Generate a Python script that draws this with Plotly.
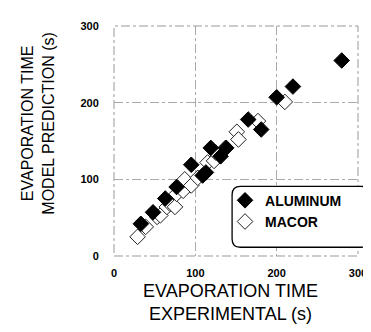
import plotly.graph_objects as go

alu_x = [33, 48, 63, 77, 95, 109, 113, 119, 131, 138, 165, 181, 200, 220, 280]
alu_y = [42, 57, 75, 90, 119, 105, 109, 141, 130, 141, 178, 165, 207, 221, 255]

mac_x = [29, 39, 53, 57, 65, 69, 75, 77, 85, 87, 95, 103, 115, 123, 125, 137, 151, 153, 177, 210]
mac_y = [25, 38, 51, 53, 64, 68, 64, 81, 85, 100, 92, 102, 122, 124, 135, 141, 162, 152, 176, 201]

ticks = [0, 100, 200, 300]
tick_text = ["0", "100", "200", "300"]

FONT = "Liberation Sans, Arial, sans-serif"

fig = go.Figure()
fig.add_trace(go.Scatter(
    x=mac_x, y=mac_y, mode="markers", name="MACOR", legendrank=2,
    marker=dict(symbol="diamond", size=12, color="white",
                line=dict(color="#222", width=1)),
))
fig.add_trace(go.Scatter(
    x=alu_x, y=alu_y, mode="markers", name="ALUMINUM", legendrank=1,
    marker=dict(symbol="diamond", size=12, color="black",
                line=dict(color="black", width=1)),
))

axis_common = dict(
    range=[0, 300], tickvals=ticks, ticktext=tick_text,
    showgrid=True, gridcolor="#aaa", griddash="dashdot", gridwidth=1,
    zeroline=False, showline=False,
    ticks="outside", tickcolor="rgba(0,0,0,0)",
    tickfont=dict(family=FONT, size=11, color="black", weight="bold"),
)

fig.update_layout(
    width=371, height=332,
    margin=dict(l=106, r=15, t=14, b=84),
    paper_bgcolor="white", plot_bgcolor="white",
    xaxis=dict(**axis_common, ticklen=7),
    yaxis=dict(**axis_common, ticklen=12),
    showlegend=True,
    legend=dict(
        x=0.455, y=0.31, xanchor="left", yanchor="top",
        bgcolor="rgba(0,0,0,0)", borderwidth=0,
        font=dict(family=FONT, size=14, color="black", weight="bold"),
        tracegroupgap=0,
    ),
)

# plot frame (dashed)
fig.add_shape(type="rect", xref="x domain", yref="y domain", x0=0, x1=1, y0=0, y1=1,
              line=dict(color="#999", width=1, dash="dashdot"), layer="above")

# rounded legend box
x0, x1, y0, y1 = 0.484, 1.044, 0.038, 0.303
rx, ry = 0.034, 0.036
path = (f"M {x0+rx},{y1} L {x1-rx},{y1} Q {x1},{y1} {x1},{y1-ry} "
        f"L {x1},{y0+ry} Q {x1},{y0} {x1-rx},{y0} "
        f"L {x0+rx},{y0} Q {x0},{y0} {x0},{y0+ry} "
        f"L {x0},{y1-ry} Q {x0},{y1} {x0+rx},{y1} Z")
fig.add_shape(type="path", path=path, xref="paper", yref="paper",
              line=dict(color="black", width=1.3), fillcolor="white", layer="above")

# axis titles
fig.add_annotation(text="EVAPORATION TIME<br>EXPERIMENTAL (s)", xref="paper", yref="paper",
                   x=0.476, y=-0.10, xanchor="center", yanchor="top", showarrow=False,
                   font=dict(family=FONT, size=18, color="black"))
fig.add_annotation(text="EVAPORATION TIME<br>MODEL PREDICTION (s)", xref="paper", yref="paper",
                   x=-0.31, y=0.577, xanchor="center", yanchor="middle", textangle=-90,
                   showarrow=False, font=dict(family=FONT, size=16, color="black"))

fig.write_html("out.html")
